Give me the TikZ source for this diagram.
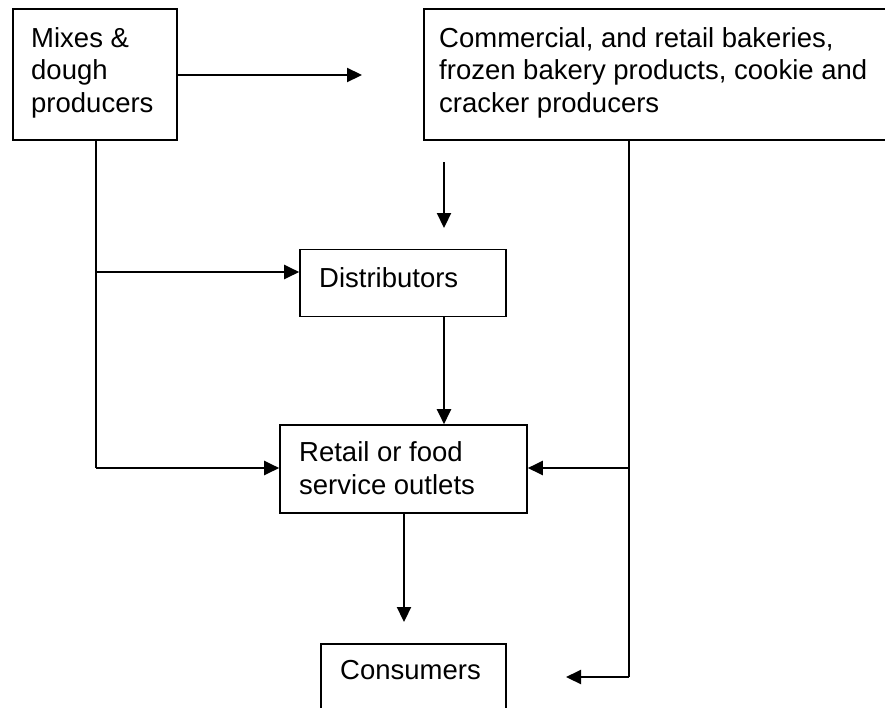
\documentclass[tikz,border=0pt]{standalone}
\usepackage{fontspec}
\setmainfont{Liberation Sans}
\usetikzlibrary{arrows.meta}
\begin{document}
\begin{tikzpicture}[x=1pt,y=-1pt,
  box/.style={draw=black,line width=1.6pt,rectangle,inner sep=0pt},
  txt/.style={anchor=base west,inner sep=0pt,font=\fontsize{27.5}{33}\selectfont},
  conn/.style={line width=2.2pt},
  arr/.style={conn,-{Triangle[length=15pt,width=14pt]}}]
\clip (0,0) rectangle (885,707);
\fill[white] (0,0) rectangle (885,707);
% boxes
\node[box,minimum width=164pt,minimum height=131pt] (mix) at (95,74.5) {};
\node[box,minimum width=480pt,minimum height=131pt] (comm) at (664,74.5) {};
\node[box,minimum width=206pt,minimum height=67pt] (dist) at (403,283) {};
\node[box,minimum width=247pt,minimum height=88pt] (ret) at (403.5,469) {};
\node[box,minimum width=185pt,minimum height=100pt] (cons) at (413.5,694) {};
% texts
\node[txt] (mix1) at (31,47) {Mixes \&};
\node[txt] (mix2) at (31,79.5) {dough};
\node[txt] (mix3) at (31,112) {producers};
\node[txt] (comm1) at (439,47) {Commercial, and retail bakeries,};
\node[txt] (comm2) at (439,79.5) {frozen bakery products, cookie and};
\node[txt] (comm3) at (439,112) {cracker producers};
\node[txt] (dist1) at (319,287) {Distributors};
\node[txt] (ret1) at (299,461.7) {Retail or food};
\node[txt] (ret2) at (299,494) {service outlets};
\node[txt] (cons1) at (340,679.3) {Consumers};
% coordinates
\coordinate (a1) at (362,75);
\coordinate (f1) at (444,162);
\coordinate (f2) at (444,228);
\coordinate (lb) at (96,468);
\coordinate (lm) at (96,272);
\coordinate (rt) at (629,140);
\coordinate (rm) at (629,468);
\coordinate (rb) at (629,677);
\coordinate (ce) at (566,677);
\coordinate (cs) at (404,622);
% connectors
\draw[arr] (mix.east |- a1) -- (a1);
\draw[arr] (f1) -- (f2);
\draw[conn] (mix.south -| lb) -- (lb);
\draw[arr] (lb) -- (ret.west |- lb);
\draw[arr] (lm) -- (dist.west |- lm);
\draw[arr] (dist.south -| f1) -- (ret.north -| f1);
\draw[conn] (comm.south -| rt) -- (rb);
\draw[arr] (rb) -- (ce);
\draw[arr] (rm) -- (ret.east |- rm);
\draw[arr] (ret.south -| cs) -- (cs);
\end{tikzpicture}
\end{document}
